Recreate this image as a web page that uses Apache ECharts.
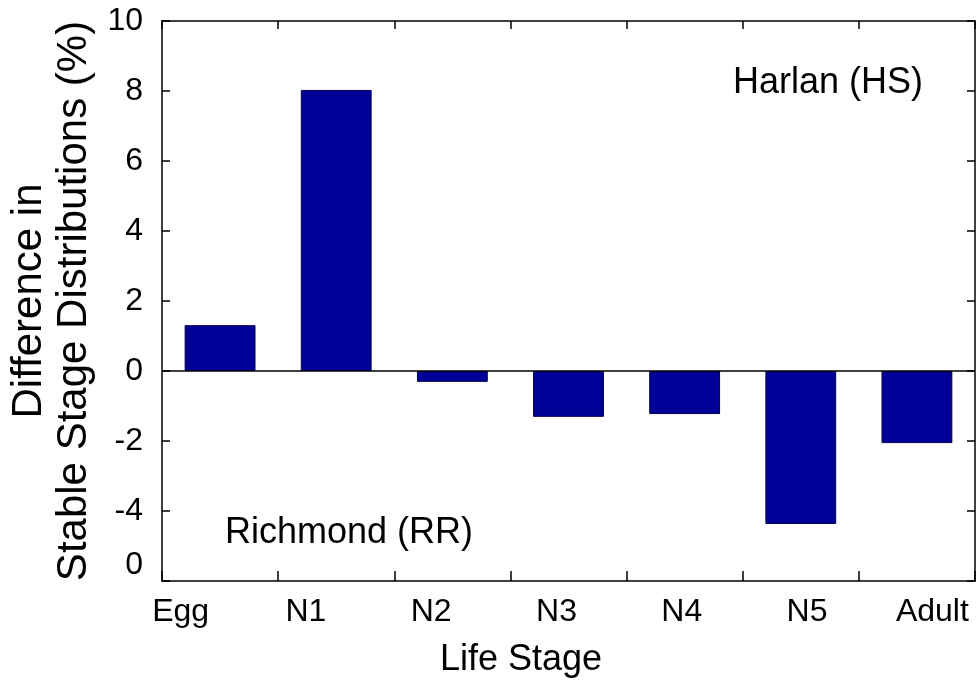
<!DOCTYPE html>
<html>
<head>
<meta charset="utf-8">
<script src="https://cdn.jsdelivr.net/npm/echarts@6/dist/echarts.min.js"></script>
<style>html,body{margin:0;padding:0;background:#fff;}#c{width:976px;height:681px;}</style>
</head>
<body>
<div id="c"></div>
<script>
var categories = ['Egg', 'N1', 'N2', 'N3', 'N4', 'N5', 'Adult'];
var diffValues = [1.31, 8.03, -0.31, -1.31, -1.23, -4.37, -2.06];
var yTickLabels = ['0', '-4', '-2', '0', '2', '4', '6', '8', '10'];
var yMin = -6, yMax = 10, yStep = 2;
var annotHS = 'Harlan (HS)';
var annotRR = 'Richmond (RR)';
var yTitle = 'Difference in\nStable Stage Distributions (%)';
var xTitle = 'Life Stage';

var FONT = '"Liberation Sans", Arial, Helvetica, sans-serif';
var chart = echarts.init(document.getElementById('c'), null, {renderer: 'canvas'});
var lineStyle = {color: '#000', width: 1.5};

chart.setOption({
  backgroundColor: '#fff',
  animation: false,
  grid: [
    {left: 162, right: 1, top: 21, bottom: 100, containLabel: false, outerBoundsMode: 'none'},
    {left: 118, right: -19, top: 21, bottom: 100, containLabel: false, outerBoundsMode: 'none'}
  ],
  xAxis: [
    {
      type: 'category', data: categories, gridIndex: 0, position: 'bottom',
      boundaryGap: true,
      axisLine: {show: true, onZero: false, lineStyle: lineStyle},
      axisTick: {show: true, inside: true, length: 10, lineStyle: lineStyle},
      axisLabel: {show: false},
      splitLine: {show: false}
    },
    {
      type: 'category', data: categories, gridIndex: 0, position: 'top',
      boundaryGap: true,
      axisLine: {show: true, onZero: false, lineStyle: lineStyle},
      axisTick: {show: true, inside: true, length: 8, lineStyle: lineStyle},
      axisLabel: {show: false},
      splitLine: {show: false}
    },
    {
      type: 'category', data: categories, gridIndex: 1, position: 'bottom',
      boundaryGap: true,
      axisLine: {show: false}, axisTick: {show: false}, splitLine: {show: false},
      axisLabel: {show: true, interval: 0, margin: 15, fontFamily: FONT, fontSize: 32, color: '#000'}
    }
  ],
  yAxis: [
    {
      type: 'value', gridIndex: 0, position: 'left', min: yMin, max: yMax, interval: yStep,
      axisLine: {show: true, onZero: false, lineStyle: lineStyle},
      axisTick: {show: true, inside: true, length: 8, lineStyle: lineStyle},
      splitLine: {show: false},
      axisLabel: {
        show: true, margin: 19, fontFamily: FONT, fontSize: 32, color: '#000',
        formatter: function (v, i) {
          var idx = Math.round((v - yMin) / yStep);
          var t = yTickLabels[idx];
          return idx === 0 ? '{up|' + t + '}' : t;
        },
        rich: {up: {fontFamily: FONT, fontSize: 32, color: '#000', padding: [0, 0, 32, 0]}}
      },
      name: yTitle, nameLocation: 'middle', nameGap: 59, nameRotate: 90,
      nameTextStyle: {fontFamily: FONT, fontSize: 42, color: '#000', lineHeight: 45, align: 'center'}
    },
    {
      type: 'value', gridIndex: 0, position: 'right', min: yMin, max: yMax, interval: yStep,
      axisLine: {show: true, onZero: false, lineStyle: lineStyle},
      axisTick: {show: true, inside: true, length: 8, lineStyle: lineStyle},
      axisLabel: {show: false}, splitLine: {show: false}
    },
    {
      type: 'value', gridIndex: 1, min: 0, max: 1, show: false
    }
  ],
  series: [
    {
      type: 'bar', xAxisIndex: 0, yAxisIndex: 0, data: diffValues,
      barWidth: '61%',
      itemStyle: {color: '#000096', borderColor: '#000050', borderWidth: 1},
      markLine: {
        silent: true, symbol: ['none', 'none'], label: {show: false},
        lineStyle: {color: '#000', width: 1.5, type: 'solid'},
        data: [{yAxis: 0}]
      }
    }
  ],
  graphic: [
    {type: 'text', left: 733, top: 65, style: {text: annotHS, fontFamily: FONT, fontSize: 36, fill: '#000'}},
    {type: 'text', left: 225, top: 515, style: {text: annotRR, fontFamily: FONT, fontSize: 36, fill: '#000'}},
    {type: 'text', x: 521, y: 660, style: {text: xTitle, fontFamily: FONT, fontSize: 36, fill: '#000', align: 'center', verticalAlign: 'middle'}}
  ]
});
</script>
</body>
</html>
